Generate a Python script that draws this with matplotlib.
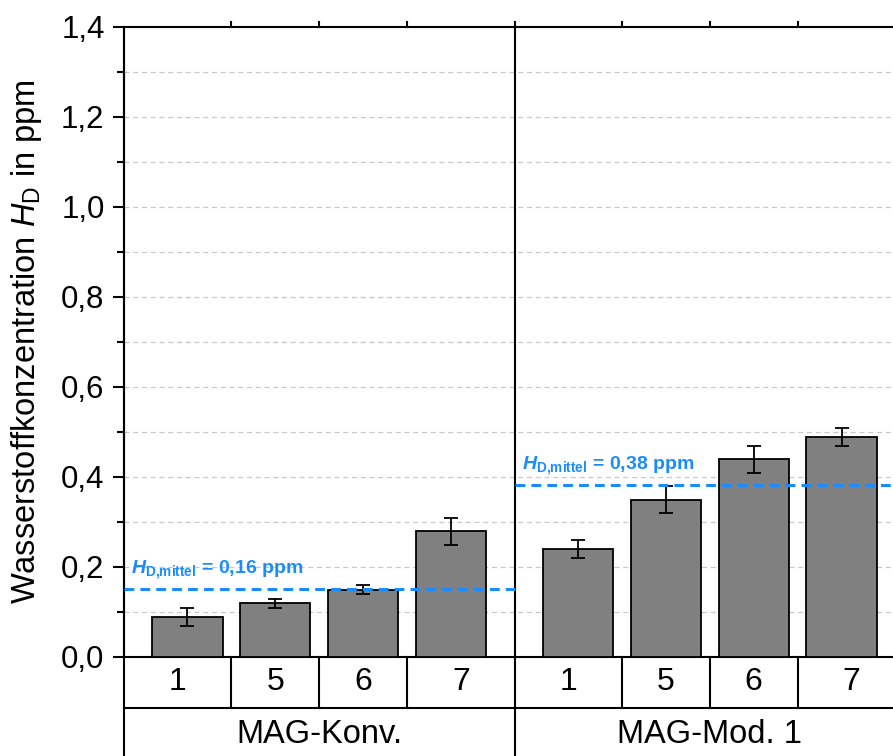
import numpy as np
import matplotlib
matplotlib.use("Agg")
import matplotlib.pyplot as plt
from matplotlib.ticker import MultipleLocator, FuncFormatter

plt.rcParams['font.family'] = ['Liberation Sans', 'DejaVu Sans']
plt.rcParams['mathtext.fontset'] = 'custom'
plt.rcParams['mathtext.rm'] = 'Liberation Sans'
plt.rcParams['mathtext.it'] = 'Liberation Sans:italic'
plt.rcParams['mathtext.bf'] = 'Liberation Sans:bold'
plt.rcParams['mathtext.bfit'] = 'Liberation Sans:italic:bold'

# data
groups = ["MAG-Konv.", "MAG-Mod. 1"]
samples = ["1", "5", "6", "7"]
values = [[0.09, 0.12, 0.15, 0.28],
          [0.24, 0.35, 0.44, 0.49]]
errors = [[0.02, 0.01, 0.01, 0.03],
          [0.02, 0.03, 0.03, 0.02]]
mean_levels = [0.151, 0.382]
mean_labels = ["0,16", "0,38"]

blue = '#1a8cff'
gap = 0.44     # extra space between groups
edge = 0.72    # space from group edge to first bar center
n = len(samples)

fig = plt.figure(figsize=(8.93, 7.56), dpi=100)
ax = fig.add_axes([124 / 893, 99 / 756, 781 / 893, 630 / 756])

trans = ax.get_xaxis_transform()
xmin = -edge
xmax = (len(groups) - 1) * (n + gap) + n - 1 + edge
row1 = -51 / 630
row2 = -110 / 630

bounds_top = []
for g, grp in enumerate(groups):
    x = np.arange(n) + g * (n + gap)
    ax.bar(x, values[g], width=0.8, color='#808080', edgecolor='black',
           linewidth=1.3, zorder=3)
    ax.errorbar(x, values[g], yerr=errors[g], fmt='none', ecolor='black',
                elinewidth=1.3, capsize=5, capthick=1.3, zorder=4)

    left = x[0] - edge
    right = x[-1] + edge
    inner = list((x[:-1] + x[1:]) / 2)
    cells = [left] + inner + [right]
    bounds_top += inner
    if g > 0:
        bounds_top.append(left)

    # mean line + label
    ax.plot([left, right], [mean_levels[g]] * 2, color=blue, lw=2.2,
            dashes=(3.2, 2.0), zorder=5)
    ax.text(left + 0.08, mean_levels[g] + 0.035,
            r'$\mathbfit{H}_{\mathbf{D{,}mittel}}$' + ' = ' + mean_labels[g] + ' ppm',
            color=blue, fontsize=14, fontweight='bold', ha='left',
            va='baseline', zorder=6)

    # table below the axis
    for c in inner:
        ax.plot([c, c], [0, row1], transform=trans, color='black', lw=1.5,
                clip_on=False)
    for i, s in enumerate(samples):
        ax.text((cells[i] + cells[i + 1]) / 2, row1 / 2, s, transform=trans,
                ha='center', va='center', fontsize=23)
    ax.text((left + right) / 2, (row1 + row2) / 2 + 0.005, grp,
            transform=trans, ha='center', va='center', fontsize=23.5)
    ax.plot([left, left], [1, row2], transform=trans, color='black',
            lw=1.5, clip_on=False)

ax.plot([xmin, xmax], [row1, row1], transform=trans, color='black', lw=1.5,
        clip_on=False)

ax.set_xlim(xmin, xmax)
ax.set_ylim(0, 1.4)
ax.set_xticks([])
ax.yaxis.set_major_locator(MultipleLocator(0.2))
ax.yaxis.set_minor_locator(MultipleLocator(0.1))
ax.yaxis.set_major_formatter(FuncFormatter(lambda v, p: f"{v:.1f}".replace('.', ',')))
ax.tick_params(axis='y', which='major', direction='out', length=8, width=1.5,
               labelsize=22.5, pad=6)
ax.tick_params(axis='y', which='minor', direction='out', length=5, width=1.5)
ax.yaxis.grid(True, which='both', color='#c8c8c8', linestyle=(0, (4, 3)), lw=0.9)
ax.set_axisbelow(True)
for sp in ax.spines.values():
    sp.set_linewidth(1.5)
ax.spines['right'].set_visible(False)

top = ax.secondary_xaxis('top')
top.set_xticks(bounds_top)
top.set_xticklabels([])
top.tick_params(direction='out', length=4, width=1.5)
top.spines['top'].set_visible(False)

ax.set_ylabel(r'Wasserstoffkonzentration $H_\mathrm{D}$ in ppm', fontsize=23.5)
ax.yaxis.set_label_coords(-80 / 781, 0.5)

fig.savefig('out.png', dpi=100)
